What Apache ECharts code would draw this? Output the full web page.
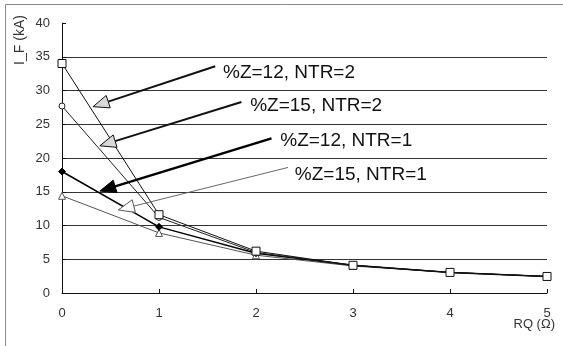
<!DOCTYPE html>
<html>
<head>
<meta charset="utf-8">
<script src="https://cdn.jsdelivr.net/npm/echarts@6/dist/echarts.min.js"></script>
<style>html,body{margin:0;padding:0;background:#fff}#c{width:563px;height:346px}</style>
</head>
<body>
<div id="c"></div>
<script>
// ---- data ----
var rq = [0, 1, 2, 3, 4, 5];
var seriesNames = ['%Z=12, NTR=2', '%Z=15, NTR=2', '%Z=12, NTR=1', '%Z=15, NTR=1'];
var z12ntr2 = [34.0, 11.6, 6.2, 4.1, 3.05, 2.45];
var z15ntr2 = [27.7, 11.2, 6.0, 4.1, 3.05, 2.45];
var z12ntr1 = [18.0, 9.8, 5.9, 4.1, 3.05, 2.45];
var z15ntr1 = [14.4, 8.9, 5.6, 4.0, 3.05, 2.45];
var yTicks = [0, 5, 10, 15, 20, 25, 30, 35, 40];
var xTicks = [0, 1, 2, 3, 4, 5];
// annotation anchors in data coordinates
var labelAt = [[1.66, 32.6], [1.94, 27.7], [2.25, 22.6], [2.40, 17.5]];
var arrowFrom = [[1.58, 33.6], [1.85, 28.3], [2.16, 22.9], [2.33, 18.6]];
var arrowTo = [[0.32, 27.6], [0.39, 21.8], [0.39, 15.1], [0.58, 12.3]];

function pairs(ys) { return rq.map(function (x, i) { return [x, ys[i]]; }); }

var arrowStyles = [
  {line: '#111', lw: 2, fill: '#d8d8d8', stroke: '#111'},
  {line: '#111', lw: 2, fill: '#d8d8d8', stroke: '#111'},
  {line: '#000', lw: 2.5, fill: '#000', stroke: '#000'},
  {line: '#666', lw: 1, fill: '#fff', stroke: '#555'}
];

var annData = seriesNames.map(function (n, i) {
  return [arrowFrom[i][0], arrowFrom[i][1], arrowTo[i][0], arrowTo[i][1], labelAt[i][0], labelAt[i][1], i];
});

function renderAnn(params, api) {
  var i = api.value(6);
  var st = arrowStyles[i];
  var p1 = api.coord([api.value(0), api.value(1)]);
  var p2 = api.coord([api.value(2), api.value(3)]);
  var pt = api.coord([api.value(4), api.value(5)]);
  var dx = p2[0] - p1[0], dy = p2[1] - p1[1];
  var len = Math.sqrt(dx * dx + dy * dy);
  var ux = dx / len, uy = dy / len;
  var hl = 16, hw = 6.5;
  var bx = p2[0] - ux * hl, by = p2[1] - uy * hl;
  var nx = -uy, ny = ux;
  return {
    type: 'group',
    children: [
      {type: 'line', shape: {x1: p1[0], y1: p1[1], x2: bx, y2: by},
        style: {stroke: st.line, lineWidth: st.lw}},
      {type: 'polygon', shape: {points: [[p2[0], p2[1]], [bx + nx * hw, by + ny * hw], [bx - nx * hw, by - ny * hw]]},
        style: {fill: st.fill, stroke: st.stroke, lineWidth: 1}},
      {type: 'text', x: pt[0], y: pt[1],
        style: {text: seriesNames[i], fill: '#111', font: '19px "Liberation Sans", Arial, sans-serif',
          textAlign: 'left', textVerticalAlign: 'middle'}}
    ]
  };
}

var chart = echarts.init(document.getElementById('c'), null, {renderer: 'canvas'});
var lbl = {color: '#333', fontSize: 13, fontFamily: '"Liberation Sans", Arial, sans-serif'};
chart.setOption({
  animation: false,
  backgroundColor: '#fff',
  grid: {left: 62, right: 16, top: 23, bottom: 53, containLabel: false, outerBoundsMode: 'none'},
  xAxis: {
    type: 'value', min: 0, max: 5, interval: 1,
    name: 'RQ (\u03A9)', nameLocation: 'end', nameGap: 8, nameMoveOverlap: false,
    nameTextStyle: {color: '#333', fontSize: 13, fontFamily: '"Liberation Sans", Arial, sans-serif',
      align: 'right', verticalAlign: 'top', padding: [25, 0, 0, 0]},
    axisLine: {show: true, lineStyle: {color: '#111', width: 1}},
    axisTick: {show: true, inside: true, length: 4, lineStyle: {color: '#111'}},
    axisLabel: Object.assign({margin: 14, formatter: function (v) { return xTicks.indexOf(v) >= 0 ? String(v) : ''; }}, lbl),
    splitLine: {show: false}
  },
  yAxis: {
    type: 'value', min: 0, max: 40, interval: 5,
    name: 'I_F (kA)', nameLocation: 'middle', nameGap: 35, nameRotate: 90, nameMoveOverlap: false,
    nameTextStyle: {color: '#333', fontSize: 14, fontFamily: '"Liberation Sans", Arial, sans-serif',
      padding: [0, 0, 0, 236]},
    axisLine: {show: true, lineStyle: {color: '#111', width: 1}},
    axisTick: {show: true, inside: true, length: 4, lineStyle: {color: '#111'}},
    axisLabel: Object.assign({margin: 12, formatter: function (v) { return yTicks.indexOf(v) >= 0 ? String(v) : ''; }}, lbl),
    splitLine: {show: true, showMaxLine: false, lineStyle: {color: '#333', width: 1}}
  },
  graphic: [{type: 'rect', left: 3, top: 2, shape: {x: 0, y: 0, width: 620, height: 400},
    style: {fill: 'none', stroke: '#888', lineWidth: 1}, silent: true, z: -1}],
  series: [
    {name: seriesNames[3], type: 'line', data: pairs(z15ntr1), symbol: 'triangle', symbolSize: 7,
      lineStyle: {color: '#555', width: 1}, itemStyle: {color: '#fff', borderColor: '#555', borderWidth: 1}, z: 2},
    {name: seriesNames[2], type: 'line', data: pairs(z12ntr1), symbol: 'diamond', symbolSize: 7,
      lineStyle: {color: '#000', width: 1.5}, itemStyle: {color: '#000', borderColor: '#000'}, z: 3},
    {name: seriesNames[1], type: 'line', data: pairs(z15ntr2), symbol: 'circle', symbolSize: 6,
      lineStyle: {color: '#222', width: 1}, itemStyle: {color: '#fff', borderColor: '#222', borderWidth: 1}, z: 4},
    {name: seriesNames[0], type: 'line', data: pairs(z12ntr2), symbol: 'rect', symbolSize: 8,
      lineStyle: {color: '#111', width: 1}, itemStyle: {color: '#fff', borderColor: '#111', borderWidth: 1}, z: 5},
    {name: 'annotations', type: 'custom', renderItem: renderAnn, data: annData, z: 10, silent: true,
      encode: {x: [0, 2, 4], y: [1, 3, 5]}}
  ]
});
</script>
</body>
</html>
